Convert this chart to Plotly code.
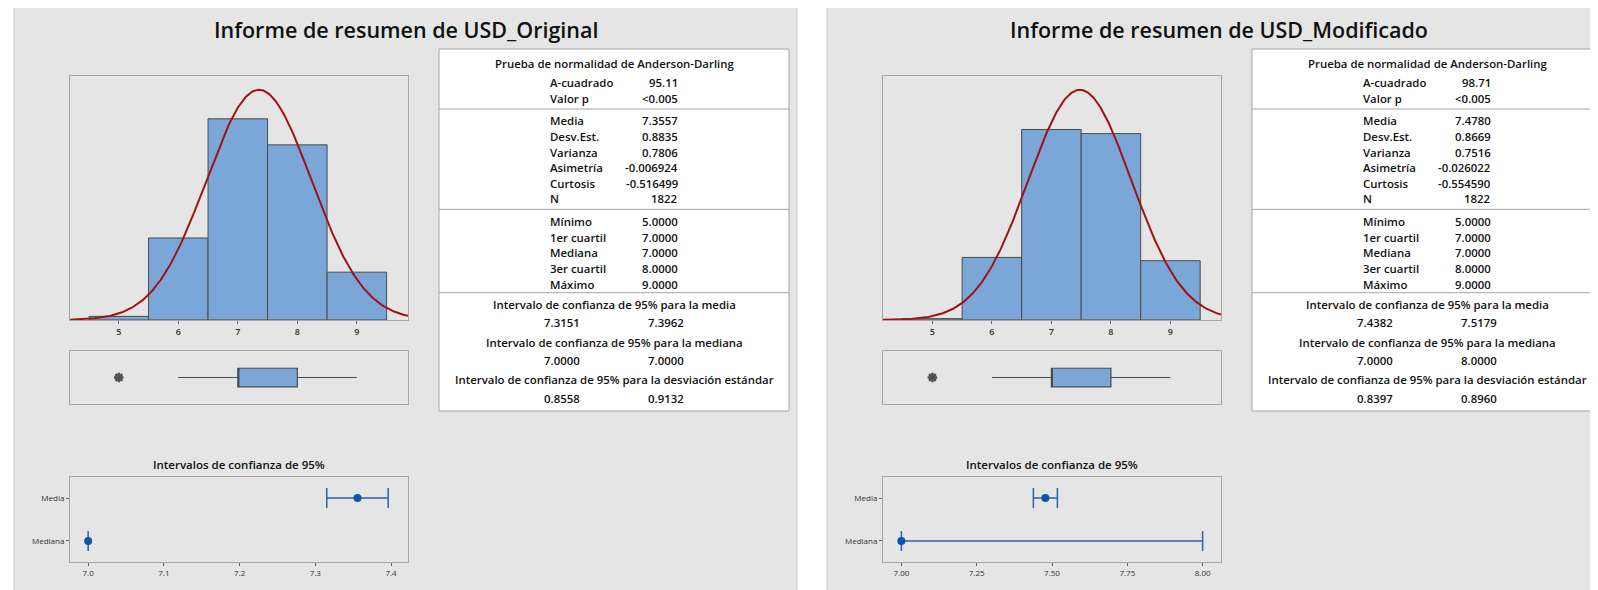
import numpy as np
import plotly.graph_objects as go

# The page body has an 8px margin, so the figure is placed at (8, 8)
OFF = 8
W, H = 1598 - OFF, 590 - OFF

# ---------------- data ----------------
bin_centers = [5, 6, 7, 8, 9]
counts_orig = [13, 293, 719, 626, 171]
counts_mod = [5, 228, 694, 679, 216]
mean_orig, sd_orig = 7.3557, 0.8835
mean_mod, sd_mod = 7.4780, 0.8669
n_obs = 1822

# boxplot stats: q1, median, q3, whisker low, whisker high
box_orig = [7, 7, 8, 6, 9]
box_mod = [7, 7, 8, 6, 9]
outliers_orig = [5]
outliers_mod = [5]

ci_labels = ["Media", "Mediana"]
ci_est_orig = [7.3557, 7.0]
ci_lo_orig = [7.3151, 7.0]
ci_hi_orig = [7.3962, 7.0]
ci_est_mod = [7.4780, 7.0]
ci_lo_mod = [7.4382, 7.0]
ci_hi_mod = [7.5179, 8.0]
ci_ticks_orig = [7.0, 7.1, 7.2, 7.3, 7.4]
ci_ticks_mod = [7.00, 7.25, 7.50, 7.75, 8.00]

titles = ["Informe de resumen de USD_Original", "Informe de resumen de USD_Modificado"]
ad_header = "Prueba de normalidad de Anderson-Darling"
ad_labels = ["A-cuadrado", "Valor p"]
ad_orig = ["95.11", "<0.005"]
ad_mod = ["98.71", "<0.005"]
desc_labels = ["Media", "Desv.Est.", "Varianza", "Asimetría", "Curtosis", "N"]
desc_orig = ["7.3557", "0.8835", "0.7806", "-0.006924", "-0.516499", "1822"]
desc_mod = ["7.4780", "0.8669", "0.7516", "-0.026022", "-0.554590", "1822"]
quant_labels = ["Mínimo", "1er cuartil", "Mediana", "3er cuartil", "Máximo"]
quant_orig = ["5.0000", "7.0000", "7.0000", "8.0000", "9.0000"]
quant_mod = ["5.0000", "7.0000", "7.0000", "8.0000", "9.0000"]
ci_titles = ["Intervalo de confianza de 95% para la media",
             "Intervalo de confianza de 95% para la mediana",
             "Intervalo de confianza de 95% para la desviación estándar"]
ci_vals_orig = [["7.3151", "7.3962"], ["7.0000", "7.0000"], ["0.8558", "0.9132"]]
ci_vals_mod = [["7.4382", "7.5179"], ["7.0000", "8.0000"], ["0.8397", "0.8960"]]
ci_plot_title = "Intervalos de confianza de 95%"

# ---------------- style ----------------
FONT = "Open Sans"
BAR = "#7ba6d8"
EDGE = "#4a4a4a"
CURVE = "#9e1414"
DOT = "#0b55a6"
ERR = "#2a62ad"
AXLINE = "#a6a6a6"
PANEL = "#e5e5e5"


def px(x):
    return (x - OFF) / W


def py(y):
    return 1 - (y - OFF) / H


fig = go.Figure()
layout = dict(width=W, height=H, margin=dict(l=0, r=0, t=0, b=0),
              paper_bgcolor="white", plot_bgcolor="white", showlegend=False,
              font=dict(family=FONT, color="#222"))
shapes, annotations = [], []


def add_report(idx, off, counts, mean, sd, box, outl, ci_est, ci_lo, ci_hi,
               ci_ticks, ci_fmt, hist_range, ci_range, title, ad_vals, desc_vals,
               quant_vals, ci_vals):
    k = 3 * idx
    xa = [f"xaxis{'' if k + j == 0 else k + j + 1}" for j in range(3)]
    ya = [f"yaxis{'' if k + j == 0 else k + j + 1}" for j in range(3)]
    xr = [f"x{'' if k + j == 0 else k + j + 1}" for j in range(3)]
    yr = [f"y{'' if k + j == 0 else k + j + 1}" for j in range(3)]

    # panel background
    shapes.append(dict(type="rect", xref="paper", yref="paper", layer="below",
                       x0=px(off + 14), x1=px(off + 797), y0=py(6), y1=py(620),
                       fillcolor=PANEL, line=dict(color="#cfcfcf", width=1)))
    annotations.append(dict(text=title, xref="paper", yref="paper",
                            x=px(off + 405.5), y=py(30), xanchor="center", yanchor="middle",
                            showarrow=False,
                            font=dict(size=21.5, family=FONT, color="#111", weight=600)))

    hx0, hx1 = off + 70, off + 408
    dom_x = [px(hx0), px(hx1)]

    # histogram
    peak = n_obs / (sd * np.sqrt(2 * np.pi))
    xs = np.linspace(hist_range[0], hist_range[1], 300)
    ys = peak * np.exp(-0.5 * ((xs - mean) / sd) ** 2)
    fig.add_trace(go.Bar(x=bin_centers, y=counts, width=1, marker=dict(color=BAR, line=dict(color=EDGE, width=1)),
                         xaxis=xr[0], yaxis=yr[0], hoverinfo="skip"))
    fig.add_trace(go.Scatter(x=xs, y=ys, mode="lines", line=dict(color=CURVE, width=2),
                             xaxis=xr[0], yaxis=yr[0], hoverinfo="skip"))
    axcommon = dict(showline=True, mirror=True, linecolor=AXLINE, linewidth=1, showgrid=False, zeroline=False)
    layout[xa[0]] = dict(domain=dom_x, range=hist_range, anchor=yr[0], tickvals=bin_centers,
                         ticks="outside", ticklen=3, tickcolor="#666",
                         tickfont=dict(size=9, color="#333", weight=600), **axcommon)
    layout[ya[0]] = dict(domain=[py(320), py(76)], range=[0, peak * 1.06], anchor=xr[0],
                         showticklabels=False, ticks="", **axcommon)

    # boxplot
    fig.add_trace(go.Box(q1=[box[0]], median=[box[1]], q3=[box[2]], lowerfence=[box[3]], upperfence=[box[4]],
                         y=[0], orientation="h", width=0.7, whiskerwidth=0, boxpoints=False,
                         fillcolor=BAR, line=dict(color=EDGE, width=1.2),
                         xaxis=xr[1], yaxis=yr[1], hoverinfo="skip"))
    fig.add_trace(go.Scatter(x=outl, y=[0] * len(outl), mode="markers",
                             marker=dict(symbol="asterisk-open", size=8, color="#505050",
                                         line=dict(color="#505050", width=2.5)),
                             xaxis=xr[1], yaxis=yr[1], hoverinfo="skip"))
    layout[xa[1]] = dict(domain=dom_x, range=hist_range, anchor=yr[1], showticklabels=False, ticks="", **axcommon)
    layout[ya[1]] = dict(domain=[py(404), py(351)], range=[-1, 1], anchor=xr[1],
                         showticklabels=False, ticks="", **axcommon)

    # CI plot
    est = np.array(ci_est)
    fig.add_trace(go.Scatter(x=ci_est, y=[1, 0], mode="markers",
                             marker=dict(color=DOT, size=8),
                             error_x=dict(type="data", symmetric=False,
                                          array=list(np.array(ci_hi) - est),
                                          arrayminus=list(est - np.array(ci_lo)),
                                          color=ERR, thickness=1.5, width=10),
                             xaxis=xr[2], yaxis=yr[2], hoverinfo="skip"))
    layout[xa[2]] = dict(domain=dom_x, range=ci_range, anchor=yr[2], tickvals=ci_ticks,
                         tickformat=ci_fmt, ticks="outside", ticklen=3, tickcolor="#666",
                         tickfont=dict(size=8, color="#333"), **axcommon)
    layout[ya[2]] = dict(domain=[py(562), py(477)], range=[-0.49, 1.49], anchor=xr[2],
                         tickvals=[1, 0], ticktext=ci_labels, ticks="outside", ticklen=3, tickcolor="#666",
                         tickfont=dict(size=8, color="#333"), **axcommon)
    annotations.append(dict(text=ci_plot_title, xref="paper", yref="paper",
                            x=px((hx0 + hx1) / 2), y=py(464), xanchor="center", yanchor="middle",
                            showarrow=False, font=dict(size=11.5, color="#111", weight=600)))

    # table
    tl = off + 439
    tr = tl + 350
    shapes.append(dict(type="rect", xref="paper", yref="paper", x0=px(tl), x1=px(tr),
                       y0=py(411), y1=py(49), fillcolor="white", line=dict(color=AXLINE, width=1)))
    for sy in [109, 209.3, 292.7]:
        shapes.append(dict(type="line", xref="paper", yref="paper", x0=px(tl), x1=px(tr),
                           y0=py(sy), y1=py(sy), line=dict(color=AXLINE, width=1)))
    tf = dict(size=11.4, color="#111", weight=600)

    def txt(t, x, y, anchor):
        annotations.append(dict(text=t, xref="paper", yref="paper", x=px(x), y=py(y),
                                xanchor=anchor, yanchor="middle", showarrow=False, font=tf))

    cx = tl + 175
    lx = tl + 108.7
    vx = tl + 241
    txt(ad_header, cx, 63.3, "center")
    for i, (lab, val) in enumerate(zip(ad_labels, ad_vals)):
        txt(lab, lx, 82.3 + 16 * i, "left")
        txt(val, vx, 82.3 + 16 * i, "right")
    for i, (lab, val) in enumerate(zip(desc_labels, desc_vals)):
        txt(lab, lx, 120.7 + 15.66 * i, "left")
        txt(val, vx, 120.7 + 15.66 * i, "right")
    for i, (lab, val) in enumerate(zip(quant_labels, quant_vals)):
        txt(lab, lx, 221.7 + 15.6 * i, "left")
        txt(val, vx, 221.7 + 15.6 * i, "right")
    for i, (ct, cv) in enumerate(zip(ci_titles, ci_vals)):
        ty = 304 + 38 * i
        txt(ct, cx, ty, "center")
        txt(cv[0], tl + 122.7, ty + 18.3, "center")
        txt(cv[1], tl + 227, ty + 18.3, "center")


add_report(0, 0, counts_orig, mean_orig, sd_orig, box_orig, outliers_orig,
           ci_est_orig, ci_lo_orig, ci_hi_orig, ci_ticks_orig, ".1f",
           [4.18, 9.86], [6.976, 7.4224], titles[0], ad_orig, desc_orig, quant_orig, ci_vals_orig)
add_report(1, 813, counts_mod, mean_mod, sd_mod, box_mod, outliers_mod,
           ci_est_mod, ci_lo_mod, ci_hi_mod, ci_ticks_mod, ".2f",
           [4.17, 9.85], [6.939, 8.061], titles[1], ad_mod, desc_mod, quant_mod, ci_vals_mod)

layout["shapes"] = shapes
layout["annotations"] = annotations
fig.update_layout(**layout)
fig.write_html("out.html")
